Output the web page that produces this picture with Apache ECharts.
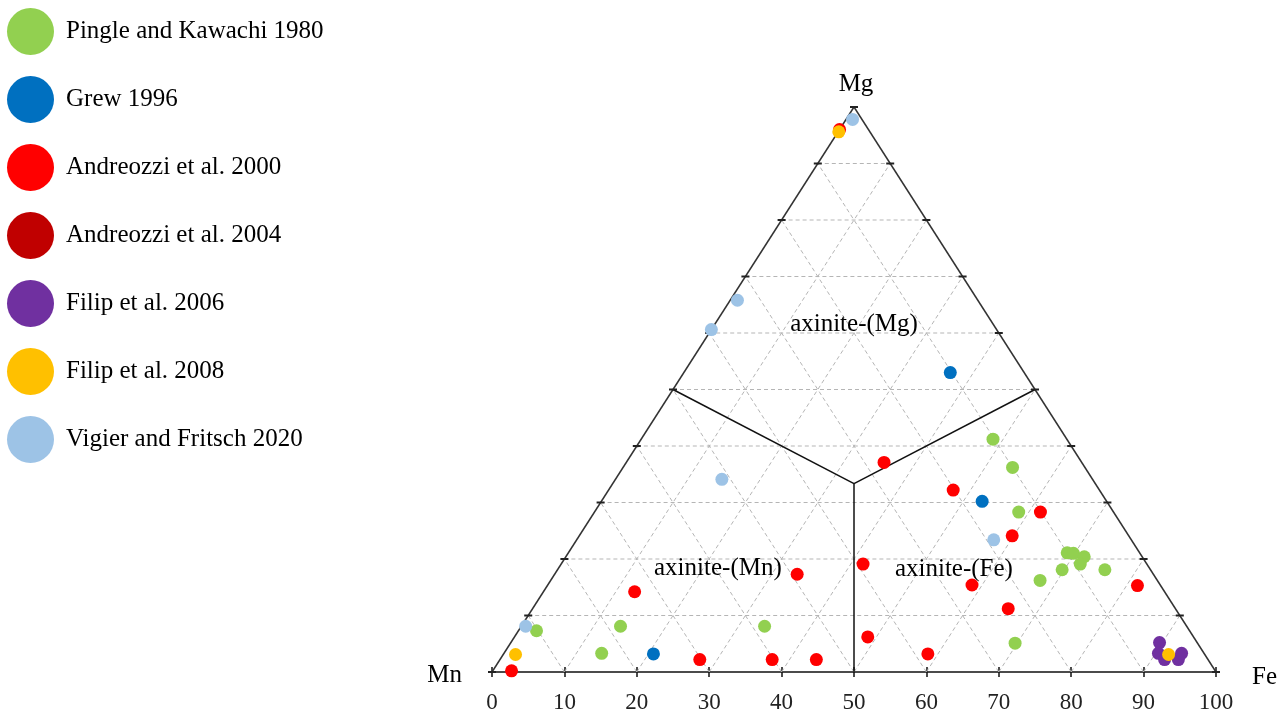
<!DOCTYPE html>
<html>
<head>
<meta charset="utf-8">
<title>Axinite group: Mn – Fe – Mg ternary</title>
<script src="https://cdn.jsdelivr.net/npm/echarts@6.0.0/dist/echarts.min.js"></script>
<style>
  html, body { margin: 0; padding: 0; background: #fff; }
  #chart { width: 1286px; height: 711px; }
</style>
</head>
<body>
<div id="chart"></div>
<script>
// Compositions as [Mn, Fe, Mg] in percent of the Y site (each row sums to 100).
const pingleKawachi1980 = [
  [10.2, 48.6, 41.2], [10.0, 53.8, 36.2], [13.1, 58.6, 28.3], [10.0, 68.9, 21.1],
  [9.2, 69.8, 21.0], [8.0, 71.6, 20.4], [9.2, 71.7, 19.1], [12.2, 69.7, 18.1],
  [6.3, 75.6, 18.1], [16.2, 67.6, 16.2], [25.2, 69.7, 5.1], [58.3, 33.6, 8.1],
  [78.2, 13.7, 8.1], [83.2, 13.5, 3.3], [90.2, 2.5, 7.3]
];
const grew1996 = [
  [10.2, 36.8, 53.0], [17.2, 52.6, 30.2], [76.1, 20.7, 3.2]
];
const andreozzi2000 = [
  [4.0, 0.0, 96.0], [27.3, 35.6, 37.1], [20.2, 47.6, 32.2], [10.1, 61.6, 28.3],
  [16.1, 59.8, 24.1], [39.2, 41.7, 19.1], [49.2, 33.5, 17.3], [26.0, 58.6, 15.4],
  [3.2, 81.5, 15.3], [23.1, 65.7, 11.2], [73.2, 12.6, 14.2], [45.0, 48.8, 6.2],
  [38.2, 58.6, 3.2], [70.2, 27.6, 2.2], [60.2, 37.6, 2.2], [54.1, 43.7, 2.2],
  [97.2, 2.6, 0.2]
];
const andreozzi2004 = [];
const filip2006 = [
  [5.2, 89.6, 5.2], [6.3, 90.4, 3.3], [6.0, 91.8, 2.2], [4.1, 93.7, 2.2], [3.1, 93.6, 3.3]
];
const filip2008 = [
  [4.3, 0.1, 95.6], [95.2, 1.7, 3.1], [5.0, 91.9, 3.1]
];
const vigierFritsch2020 = [
  [1.3, 0.9, 97.8], [33.2, 1.0, 65.8], [39.4, 0.0, 60.6], [51.2, 14.7, 34.1],
  [19.0, 57.6, 23.4], [91.3, 0.6, 8.1]
];

const sourceNames = [
  'Pingle and Kawachi 1980', 'Grew 1996', 'Andreozzi et al. 2000', 'Andreozzi et al. 2004',
  'Filip et al. 2006', 'Filip et al. 2008', 'Vigier and Fritsch 2020'
];
const sourceData = [
  pingleKawachi1980, grew1996, andreozzi2000, andreozzi2004,
  filip2006, filip2008, vigierFritsch2020
];
const sourceColors = ['#92D050', '#0070C0', '#FF0000', '#C00000', '#7030A0', '#FFC000', '#9DC3E6'];

const vertexNames = ['Mn', 'Fe', 'Mg'];
const fieldNames = ['axinite-(Mg)', 'axinite-(Mn)', 'axinite-(Fe)'];
// Where each field name sits, as [Mn, Fe, Mg].
const fieldLabelPos = [[19.0, 19.0, 62.0], [59.4, 21.8, 18.8], [26.9, 54.5, 18.6]];
const bottomTicks = [0, 10, 20, 30, 40, 50, 60, 70, 80, 90, 100];

const SERIF = '"Liberation Serif", "Times New Roman", Times, serif';

// Ternary [Mn, Fe, Mg] -> plot [x, y]: x runs Mn corner (0) to Fe corner (100), y is Mg.
function toXY(c) { return [c[1] + c[2] / 2, c[2]]; }

// Frame segments [x1, y1, x2, y2, kind]: 0 dashed grid, 1 triangle side, 2 field boundary, 3 side tick.
const frame = [];
function seg(a, b, kind) { const p = toXY(a), q = toXY(b); frame.push([p[0], p[1], q[0], q[1], kind]); }
for (let k = 10; k < 100; k += 10) {
  seg([100 - k, 0, k], [0, 100 - k, k], 0);   // constant Mg
  seg([100 - k, k, 0], [0, k, 100 - k], 0);   // constant Fe
  seg([k, 100 - k, 0], [k, 0, 100 - k], 0);   // constant Mn
}
seg([100, 0, 0], [0, 0, 100], 1);
seg([0, 100, 0], [0, 0, 100], 1);
const centre = [100 / 3, 100 / 3, 100 / 3];
seg(centre, [50, 0, 50], 2);
seg(centre, [0, 50, 50], 2);
seg(centre, [50, 50, 0], 2);
for (let k = 0; k <= 100; k += 10) {
  const l = toXY([100 - k, 0, k]), r = toXY([0, 100 - k, k]);
  frame.push([l[0], l[1], l[0], l[1], 3]);
  frame.push([r[0], r[1], r[0], r[1], 3]);
}

function renderFrame(params, api) {
  const kind = api.value(4);
  const p1 = api.coord([api.value(0), api.value(1)]);
  const p2 = api.coord([api.value(2), api.value(3)]);
  if (kind === 3) {
    return { type: 'line', shape: { x1: p1[0] - 4, y1: p1[1], x2: p1[0] + 4, y2: p1[1] },
      style: { stroke: '#222', lineWidth: 2 } };
  }
  const styles = [
    { stroke: '#b5b5b5', lineWidth: 1, lineDash: [4, 3] },
    { stroke: '#333', lineWidth: 1.5 },
    { stroke: '#111', lineWidth: 1.5 }
  ];
  return { type: 'line', shape: { x1: p1[0], y1: p1[1], x2: p2[0], y2: p2[1] }, style: styles[kind] };
}

const chart = echarts.init(document.getElementById('chart'), null, { renderer: 'canvas' });

const series = [{
  type: 'custom',
  name: 'frame',
  silent: true,
  renderItem: renderFrame,
  encode: { x: [0, 2], y: [1, 3] },
  data: frame,
  z: 1
}];

sourceNames.forEach(function (name, i) {
  series.push({
    type: 'scatter',
    name: name,
    data: sourceData[i].map(toXY),
    symbol: 'circle',
    symbolSize: 13,
    itemStyle: { color: sourceColors[i], opacity: 1 },
    z: 3 + i
  });
});

// Field names
series.push({
  type: 'scatter',
  name: 'fields',
  silent: true,
  symbolSize: 0,
  itemStyle: { opacity: 1 },
  data: fieldLabelPos.map(function (c, i) { return { value: toXY(c), name: fieldNames[i] }; }),
  label: {
    show: true, position: 'inside', formatter: '{b}', offset: [0, 3],
    fontFamily: SERIF, fontSize: 25, color: '#000'
  },
  z: 20
});

// Corner names
const vertexXY = [toXY([100, 0, 0]), toXY([0, 100, 0]), toXY([0, 0, 100])];
const vertexLabel = [
  { position: 'left', distance: 30, offset: [0, 3] },
  { position: 'right', distance: 36, offset: [0, 5] },
  { position: 'top', distance: 11, offset: [2, 1] }
];
series.push({
  type: 'scatter',
  name: 'corners',
  silent: true,
  symbolSize: 0,
  itemStyle: { opacity: 1 },
  data: vertexXY.map(function (p, i) {
    return { value: p, name: vertexNames[i], label: vertexLabel[i] };
  }),
  label: { show: true, formatter: '{b}', fontFamily: SERIF, fontSize: 25, color: '#000' },
  z: 20
});

chart.setOption({
  animation: false,
  backgroundColor: '#fff',
  textStyle: { fontFamily: SERIF },
  legend: {
    data: sourceNames,
    orient: 'vertical',
    left: 2,
    top: 3,
    itemWidth: 47,
    itemHeight: 47,
    itemGap: 21,
    icon: 'circle',
    selectedMode: false,
    textStyle: { fontFamily: SERIF, fontSize: 25, color: '#000', padding: [0, 0, 0, 7] }
  },
  grid: { left: 492, right: 70, top: 107, bottom: 39, outerBoundsMode: 'none' },
  xAxis: [{
    type: 'value', min: 0, max: 100, interval: 10, position: 'bottom',
    axisLine: { show: true, lineStyle: { color: '#111', width: 1.5 } },
    axisTick: { show: true, length: 5, lineStyle: { color: '#111', width: 1.5 } },
    axisLabel: {
      show: true, margin: 19, fontFamily: SERIF, fontSize: 23, color: '#222',
      formatter: function (v) { return bottomTicks.indexOf(v) >= 0 ? String(v) : ''; }
    },
    splitLine: { show: false }
  }, {
    type: 'value', min: 0, max: 100, interval: 10, position: 'bottom',
    axisLine: { show: false },
    axisTick: { show: true, inside: true, length: 5, lineStyle: { color: '#111', width: 1.5 } },
    axisLabel: { show: false },
    splitLine: { show: false }
  }],
  yAxis: {
    type: 'value', min: 0, max: 100, show: false, splitLine: { show: false }
  },
  series: series
});
</script>
</body>
</html>
